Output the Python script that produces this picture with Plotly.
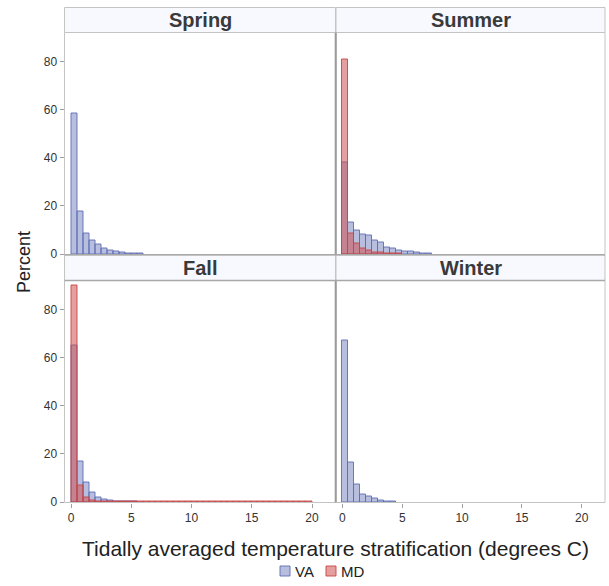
import plotly.graph_objects as go

W, H = 609, 586

# ---------------- data (percent per 0.5-degree bin, starting at 0) ----------------
bin_width = 0.5
panels = ["Spring", "Summer", "Fall", "Winter"]
spring_va = [58.3, 17.6, 8.7, 5.8, 3.8, 2.4, 1.5, 1.0, 0.6, 0.4, 0.3, 0.1]
spring_md = []
summer_va = [38.2, 13.2, 9.7, 8.0, 7.6, 5.8, 4.7, 2.8, 2.1, 1.4, 1.1, 0.9, 0.7, 0.4, 0.1]
summer_md = [81.0, 8.6, 4.2, 2.1, 1.4, 0.8, 0.5, 0.3, 0.2, 0.1]
fall_va = [65.3, 16.7, 8.0, 3.9, 1.7, 1.0, 0.7, 0.4, 0.3, 0.2, 0.1]
fall_md = [90.0, 6.7, 1.7, 0.7, 0.4, 0.2, 0.1, 0.1, 0.05, 0.05, 0.04, 0.04, 0.03, 0.03,
           0.03, 0.02, 0.02, 0.02, 0.02, 0.02, 0.02, 0.02, 0.02, 0.02, 0.02, 0.02, 0.02,
           0.02, 0.02, 0.02, 0.02, 0.02, 0.02, 0.02, 0.02, 0.02, 0.02, 0.02, 0.02, 0.02]
winter_va = [67.4, 16.4, 7.4, 3.2, 2.4, 1.4, 0.7, 0.3, 0.1]
winter_md = []
va_data = [spring_va, summer_va, fall_va, winter_va]
md_data = [spring_md, summer_md, fall_md, winter_md]
x_ticks = [0, 5, 10, 15, 20]
y_ticks = [0, 20, 40, 60, 80]
legend_names = ["VA", "MD"]

# ---------------- layout geometry (pixels) ----------------
col_x = [(64.5, 335.5), (336, 605)]
row_hdr = [(7.5, 32.5), (255, 280.5)]
row_plot = [(32.5, 254.5), (280.5, 502.5)]

def px(x):
    return x / W

def py(y):
    return 1 - y / H

FONT = "Liberation Sans, Arial, sans-serif"
VA_FILL = "rgba(111,126,190,0.5)"
VA_LINE = "rgba(95,110,180,0.9)"
MD_FILL = "rgba(210,80,80,0.55)"
MD_LINE = "rgba(200,70,70,0.9)"

fig = go.Figure()
layout = {}
shapes = []
annotations = []

for i, name in enumerate(panels):
    r, c = divmod(i, 2)
    n = i + 1
    xa = "x" if n == 1 else f"x{n}"
    ya = "y" if n == 1 else f"y{n}"
    va = va_data[i]
    md = md_data[i]
    if va:
        fig.add_trace(go.Bar(
            x=[k * bin_width + bin_width / 2 for k in range(len(va))], y=va,
            width=bin_width, marker=dict(color=VA_FILL, line=dict(color=VA_LINE, width=1)),
            name="VA", showlegend=False, xaxis=xa, yaxis=ya))
    if md:
        fig.add_trace(go.Bar(
            x=[k * bin_width + bin_width / 2 for k in range(len(md))], y=md,
            width=bin_width, marker=dict(color=MD_FILL, line=dict(color=MD_LINE, width=1)),
            name="MD", showlegend=False, xaxis=xa, yaxis=ya))

    x0, x1 = col_x[c]
    t0, t1 = row_plot[r]
    xkey = "xaxis" if n == 1 else f"xaxis{n}"
    ykey = "yaxis" if n == 1 else f"yaxis{n}"
    layout[xkey] = dict(
        domain=[px(x0), px(x1)], range=[-0.54, 21.95], anchor=ya,
        showgrid=False, zeroline=False, showline=False, automargin=False,
        tickvals=x_ticks if r == 1 else [], ticks="outside" if r == 1 else "",
        ticklen=4, tickcolor="#a0a0a0", showticklabels=(r == 1),
        tickfont=dict(family=FONT, size=12, color="#333"))
    layout[ykey] = dict(
        domain=[py(t1), py(t0)], range=[-0.2, 92.2], anchor=xa,
        showgrid=False, zeroline=False, showline=False, automargin=False,
        tickvals=y_ticks if c == 0 else [], ticks="outside" if c == 0 else "",
        ticklen=4, tickcolor="#a0a0a0", showticklabels=(c == 0),
        tickfont=dict(family=FONT, size=12, color="#333"))

    h0, h1 = row_hdr[r]
    shapes.append(dict(type="rect", xref="paper", yref="paper",
                       x0=px(x0), x1=px(x1), y0=py(h1), y1=py(h0),
                       fillcolor="#F8F8FF", line=dict(color="#c4c4c4", width=1), layer="below"))
    annotations.append(dict(text=f"<b>{name}</b>", xref="paper", yref="paper",
                            x=px((x0 + x1) / 2), y=py((h0 + h1) / 2), showarrow=False,
                            xanchor="center", yanchor="middle",
                            font=dict(family=FONT, size=20, color="#3a3a3a")))
    shapes.append(dict(type="rect", xref="paper", yref="paper",
                       x0=px(x0), x1=px(x1), y0=py(t1), y1=py(t0),
                       fillcolor="rgba(0,0,0,0)", line=dict(color="#c4c4c4", width=1), layer="above"))

# darker dividers between panels
for r in range(2):
    t0, t1 = row_plot[r]
    shapes.append(dict(type="line", xref="paper", yref="paper",
                       x0=px(335.7), x1=px(335.7), y0=py(t1), y1=py(t0),
                       line=dict(color="#9a9a9a", width=2)))
shapes.append(dict(type="line", xref="paper", yref="paper",
                   x0=px(64.5), x1=px(605), y0=py(254.7), y1=py(254.7),
                   line=dict(color="#a8a8a8", width=1.5)))
shapes.append(dict(type="line", xref="paper", yref="paper",
                   x0=px(64.5), x1=px(605), y0=py(280.5), y1=py(280.5),
                   line=dict(color="#a8a8a8", width=1.5)))

annotations.append(dict(text="Tidally averaged temperature stratification (degrees C)",
                        xref="paper", yref="paper", x=px(335), y=py(548), showarrow=False,
                        xanchor="center", yanchor="middle",
                        font=dict(family=FONT, size=21, color="#222")))
annotations.append(dict(text="Percent", xref="paper", yref="paper", x=px(24), y=py(262),
                        showarrow=False, textangle=-90, xanchor="center", yanchor="middle",
                        font=dict(family=FONT, size=18, color="#222")))

# manual legend (swatch + text)
leg_items = [(legend_names[0], VA_FILL, VA_LINE, 280), (legend_names[1], MD_FILL, MD_LINE, 326)]
for label, fill, line, sx in leg_items:
    shapes.append(dict(type="rect", xref="paper", yref="paper",
                       x0=px(sx), x1=px(sx + 10), y0=py(576), y1=py(566),
                       fillcolor=fill, line=dict(color=line, width=1)))
    annotations.append(dict(text=label, xref="paper", yref="paper", x=px(sx + 13), y=py(571.5),
                            showarrow=False, xanchor="left", yanchor="middle",
                            font=dict(family=FONT, size=15, color="#222")))

fig.update_layout(
    width=W, height=H, margin=dict(l=0, r=0, t=0, b=0, autoexpand=False),
    paper_bgcolor="white", plot_bgcolor="white", barmode="overlay", bargap=0,
    showlegend=False, shapes=shapes, annotations=annotations,
    **layout)

fig.write_html("out.html")
